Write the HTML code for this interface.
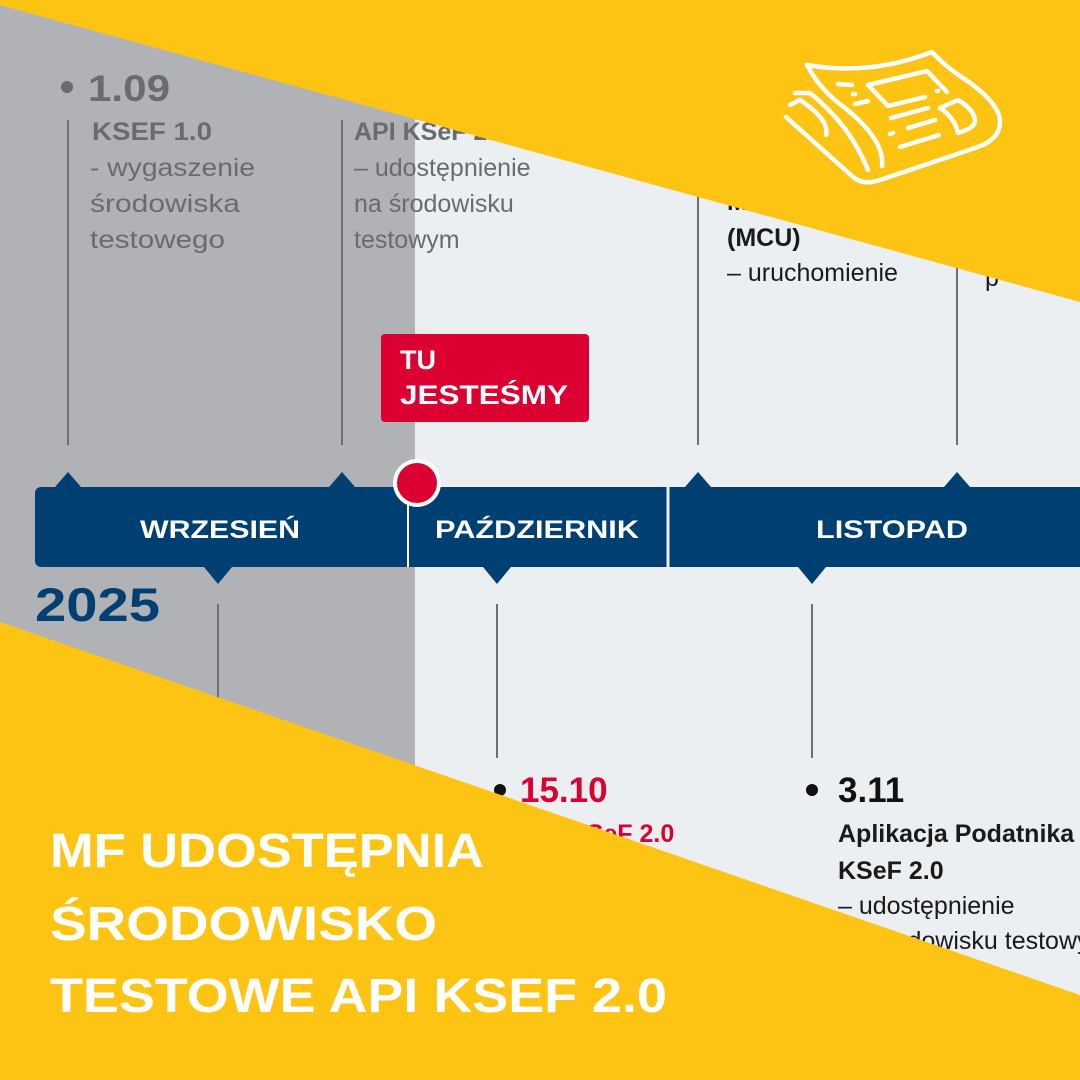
<!DOCTYPE html>
<html><head><meta charset="utf-8"><style>
html,body{margin:0;padding:0;width:1080px;height:1080px;overflow:hidden;background:#fdc414}
svg{display:block}
text{font-family:"Liberation Sans",sans-serif}
</style></head><body>
<svg width="1080" height="1080" viewBox="0 0 1080 1080" xmlns="http://www.w3.org/2000/svg">
<rect x="0" y="0" width="1080" height="1080" fill="#eceff2"/>
<rect x="0" y="0" width="415" height="1080" fill="#b1b2b6"/>
<g stroke="#6e6f73" stroke-width="2">
<line x1="68" y1="120" x2="68" y2="445"/>
<line x1="342" y1="120" x2="342" y2="445"/>
<line x1="698" y1="180" x2="698" y2="445"/>
<line x1="957" y1="180" x2="957" y2="445"/>
<line x1="218" y1="604" x2="218" y2="760"/>
<line x1="497" y1="604" x2="497" y2="758"/>
<line x1="812" y1="604" x2="812" y2="758"/>
</g>
<rect x="35" y="487" width="1060" height="80" rx="6" fill="#003f72"/>
<g fill="#003f72">
<polygon points="55,487 68,472 81,487"/>
<polygon points="329,487 342,472 355,487"/>
<polygon points="685,487 698,472 711,487"/>
<polygon points="944,487 957,472 970,487"/>
<polygon points="204,567 218,584 232,567"/>
<polygon points="483,567 497,584 511,567"/>
<polygon points="798,567 812,584 826,567"/>
</g>
<line x1="408" y1="487" x2="408" y2="567" stroke="#fff" stroke-width="2"/>
<line x1="668" y1="487" x2="668" y2="567" stroke="#eceff2" stroke-width="3"/>
<circle cx="417" cy="483" r="24" fill="#fff"/>
<circle cx="417" cy="483" r="20" fill="#dc0032"/>
<g fill="#fff" font-weight="bold" font-size="25" text-anchor="middle">
<text x="220" y="538" textLength="160" lengthAdjust="spacingAndGlyphs">WRZESIEŃ</text>
<text x="537" y="538" textLength="204" lengthAdjust="spacingAndGlyphs">PAŹDZIERNIK</text>
<text x="892" y="538" textLength="152" lengthAdjust="spacingAndGlyphs">LISTOPAD</text>
</g>
<text x="35" y="621" font-size="47" font-weight="bold" fill="#003f72" textLength="125" lengthAdjust="spacingAndGlyphs">2025</text>
<circle cx="67" cy="87" r="6" fill="#6a6b6f"/>
<text x="88" y="101" font-size="37" font-weight="bold" fill="#6a6b6f" textLength="82" lengthAdjust="spacingAndGlyphs">1.09</text>
<g fill="#6a6b6f" font-size="25">
<text x="92" y="140" font-weight="bold" textLength="120" lengthAdjust="spacingAndGlyphs">KSEF 1.0</text>
<text x="90" y="176" textLength="165" lengthAdjust="spacingAndGlyphs">- wygaszenie</text>
<text x="90" y="212" textLength="150" lengthAdjust="spacingAndGlyphs">środowiska</text>
<text x="90" y="248" textLength="135" lengthAdjust="spacingAndGlyphs">testowego</text>
<text x="354" y="140" font-weight="bold">API KSeF 2.0</text>
<text x="354" y="176">– udostępnienie</text>
<text x="354" y="212">na środowisku</text>
<text x="354" y="248">testowym</text>
</g>
<g fill="#1a1a1a" font-size="25">
<text x="727" y="210" font-weight="bold">Moduł</text>
<text x="727" y="246" font-weight="bold">(MCU)</text>
<text x="727" y="281">– uruchomienie</text>
<text x="985" y="286">p</text>
</g>
<rect x="381" y="334" width="208" height="88" rx="4" fill="#dc0032"/>
<g fill="#fff" font-size="27" font-weight="bold">
<text x="400" y="369">TU</text>
<text x="400" y="404" textLength="168" lengthAdjust="spacingAndGlyphs">JESTEŚMY</text>
</g>
<circle cx="500" cy="790" r="6" fill="#111"/>
<text x="520" y="802" font-size="35" font-weight="bold" fill="#dc0032">15.10</text>
<text x="520" y="842" font-size="25" font-weight="bold" fill="#dc0032">API KSeF 2.0</text>
<text x="520" y="878" font-size="25" fill="#1a1a1a">– udostępnienie</text>
<circle cx="812" cy="790" r="6" fill="#111"/>
<text x="838" y="802" font-size="35" font-weight="bold" fill="#111">3.11</text>
<g fill="#1a1a1a" font-size="25">
<text x="838" y="842" font-weight="bold">Aplikacja Podatnika</text>
<text x="838" y="879" font-weight="bold">KSeF 2.0</text>
<text x="838" y="914">– udostępnienie</text>
<text x="838" y="949">na środowisku testowym</text>
</g>
<polygon points="0,0 1080,0 1080,302 0,5" fill="#fdc414"/>
<polygon points="0,622 1080,995 1080,1080 0,1080" fill="#fdc414"/>
<g fill="none" stroke="#fff" stroke-width="4.5" stroke-linecap="round" stroke-linejoin="round">
<path d="M807,65 Q870,76 932,52 Q945,66 960,76 Q1000,102 1000,122 Q1000,140 975,148 L880,180 Q862,186 852,176 L786,117"/>
<path d="M807,65 Q820,90 845,108 Q885,140 882,166"/>
<path d="M795,93 L810,93 Q850,125 868,170"/>
<path d="M790,105 L800,100 Q830,120 826,135"/>
<path d="M868,85 L927,71 L947,92"/>
<path d="M868,85 L888,106 L925,97"/>
<path d="M891,118 L928,108"/>
<path d="M908,128 L935,120"/>
<path d="M900,147 L939,135"/>
<path d="M938,91 L937,91"/>
<path d="M890,134 L893,133"/>
<path d="M838,84 L852,85"/>
<path d="M853,94 L855,94"/>
<path d="M855,104 L868,101"/>
<path d="M940,108 L958,100 Q975,110 975,122 Q974,128 958,133 Q955,118 940,108"/>
</g>
<g fill="#fff" font-weight="bold" font-size="48">
<text x="50" y="867" textLength="434" lengthAdjust="spacingAndGlyphs">MF UDOSTĘPNIA</text>
<text x="50" y="940" textLength="387" lengthAdjust="spacingAndGlyphs">ŚRODOWISKO</text>
<text x="50" y="1012" textLength="617" lengthAdjust="spacingAndGlyphs">TESTOWE API KSEF 2.0</text>
</g>
</svg>
</body></html>
